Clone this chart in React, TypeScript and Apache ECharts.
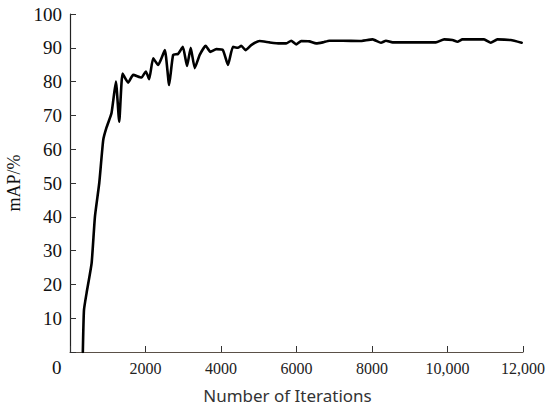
import React, { useEffect, useRef } from "react";
import * as echarts from "echarts";

const iterations = [
  340, 370, 440, 573, 660, 775, 880, 970, 1100, 1216, 1304, 1392, 1542, 1674, 1894, 2010, 2097,
  2203, 2335, 2512, 2626, 2732, 2864, 2990, 3100, 3198, 3304, 3436, 3594, 3718, 3876, 4052, 4184,
  4316, 4448, 4537, 4651, 4800, 5022, 5286, 5550, 5727, 5859, 5991, 6124, 6343, 6520, 6696, 6872,
  7224, 7665, 8017, 8238, 8370, 8546, 9163, 9691, 9911, 10132, 10264, 10396, 10968, 11145, 11321,
  11674, 11965,
];
const mAP = [
  0, 12.4, 17.5, 26.3, 40, 50, 62.7, 66.5, 70.7, 80, 68.1, 82.4, 79.7, 82, 81.2, 83, 80.7,
  86.9, 84.9, 89.3, 79.0, 87.9, 88.2, 90.3, 84.6, 90, 84, 87.9, 90.6, 88.8, 89.6, 89.3, 84.9,
  90.3, 90, 90.6, 89.3, 90.8, 92.0, 91.6, 91.3, 91.3, 92.1, 91.0, 92, 91.9, 91.3, 91.6, 92.1,
  92.1, 92, 92.5, 91.5, 92.1, 91.6, 91.6, 91.6, 92.5, 92.3, 91.8, 92.5, 92.5, 91.5, 92.5,
  92.3, 91.5,
];
const xTickLabels: Record<number, string> = {
  2000: "2000",
  4000: "4000",
  6000: "6000",
  8000: "8000",
  10000: "10,000",
  12000: "12,000",
};

export default function App() {
  const ref = useRef<HTMLDivElement>(null);
  useEffect(() => {
    if (!ref.current) return;
    const chart = echarts.init(ref.current, null, { renderer: "svg" });
    const serif = "Liberation Serif, DejaVu Serif, serif";
    chart.setOption({
      animation: false,
      backgroundColor: "#ffffff",
      grid: { left: 70, right: 27, top: 14, bottom: 57, containLabel: false, outerBoundsMode: "none" },
      xAxis: {
        type: "value",
        min: 0,
        max: 12000,
        interval: 2000,
        name: "Number of Iterations",
        nameLocation: "middle",
        nameGap: 35,
        nameTextStyle: {
          fontFamily: "Noto Sans, sans-serif",
          fontSize: 17,
          color: "#333",
          padding: [0, 18, 0, 0],
        },
        axisLine: { show: true, lineStyle: { color: "#5a5048", width: 1.2 } },
        axisTick: { show: true, inside: true, length: 6, lineStyle: { color: "#333" } },
        axisLabel: {
          margin: 8,
          fontFamily: serif,
          fontSize: 16,
          color: "#222",
          formatter: (v: number) => xTickLabels[v] ?? "",
        },
        splitLine: { show: false },
      },
      yAxis: {
        type: "value",
        min: 0,
        max: 100,
        interval: 10,
        name: "mAP/%",
        nameLocation: "middle",
        nameGap: 47,
        nameTextStyle: { fontFamily: serif, fontSize: 18, color: "#111" },
        axisLine: { show: true, lineStyle: { color: "#222", width: 1.2 } },
        axisTick: { show: true, inside: true, length: 6, lineStyle: { color: "#333" } },
        axisLabel: {
          margin: 8,
          fontFamily: serif,
          fontSize: 19,
          color: "#111",
          formatter: (v: number) => (v === 0 ? "" : String(v)),
        },
        splitLine: { show: false },
      },
      graphic: [
        {
          type: "text",
          left: 52,
          top: 358,
          style: { text: "0", fontFamily: serif, fontSize: 19, fill: "#111" },
        },
      ],
      series: [
        {
          type: "line",
          data: iterations.map((x, i) => [x, mAP[i]]),
          showSymbol: false,
          smooth: 0.15,
          lineStyle: { color: "#000", width: 2.6, join: "round", cap: "round" },
        },
      ],
    });
    return () => chart.dispose();
  }, []);
  return (
    <div
      ref={ref}
      style={{ position: "fixed", left: 0, top: 0, width: 550, height: 409 }}
    />
  );
}
